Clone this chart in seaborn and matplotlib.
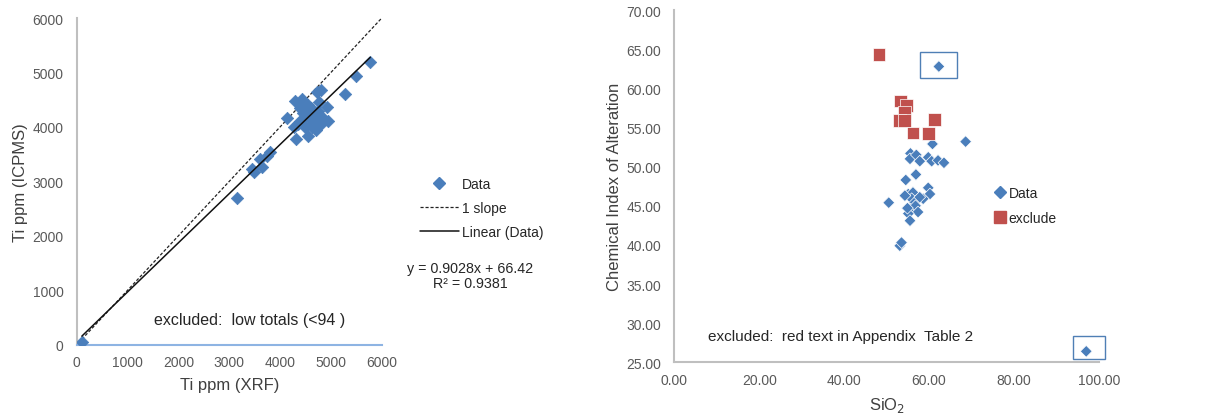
import numpy as np
import pandas as pd
import matplotlib
matplotlib.use("Agg")
import matplotlib.pyplot as plt
import seaborn as sns
from matplotlib.lines import Line2D
from matplotlib.patches import Rectangle

sns.set_style("white")
plt.rcParams['font.family'] = ['Liberation Sans', 'DejaVu Sans']

# ---- Left panel data: Ti ppm XRF vs ICPMS ----
ti_xrf = [100, 3160, 3490, 3445, 3642, 3608, 3740, 3805, 4134, 4317, 4297, 4429,
          4264, 4540, 4626, 4724, 4803, 4756, 4921, 4933, 5281, 5498, 5774,
          4400, 4450, 4500, 4550, 4600, 4650, 4700, 4750, 4500, 4600, 4700,
          4800, 4400, 4550, 4650, 4800, 4450, 4350, 4700]
ti_icpms = [50, 2690, 3166, 3227, 3258, 3410, 3471, 3533, 4163, 3778, 4482, 4512,
            3993, 3839, 3993, 4635, 4684, 4452, 4360, 4114, 4604, 4940, 5186,
            4100, 4250, 4300, 4200, 4350, 4150, 4250, 4300, 4000, 4050, 4100,
            4200, 4350, 4400, 4300, 4050, 4150, 4050, 3950]
fit_slope = 0.9028
fit_intercept = 66.42
fit_r2 = 0.9381
one_slope_x = [100, 6000]

# ---- Right panel data: SiO2 vs CIA ----
sio2_data = [62.3, 68.6, 60.8, 55.6, 55.5, 57.0, 57.8, 59.8, 60.6, 62.1, 63.5,
             56.9, 54.5, 50.5, 59.8, 60.2, 58.6, 55.1, 56.2, 55.9, 56.6, 55.5,
             56.8, 57.4, 55.1, 55.5, 54.9, 57.8, 54.3, 53.1, 53.5, 97.0]
cia_data = [62.8, 53.2, 52.9, 51.7, 51.0, 51.5, 50.7, 51.2, 50.7, 50.8, 50.5,
            49.0, 48.3, 45.4, 47.3, 46.5, 45.9, 46.5, 46.7, 45.9, 45.4, 44.6,
            45.0, 44.2, 44.0, 43.1, 44.7, 46.1, 46.3, 39.9, 40.3, 26.4]
sio2_excl = [48.2, 53.3, 54.7, 54.3, 53.1, 54.3, 61.2, 56.2, 59.8]
cia_excl = [64.3, 58.4, 57.8, 56.9, 55.9, 55.9, 56.0, 54.3, 54.2]

blue = "#4A7EBB"
red = "#C0504D"
box_col = "#4F7FB5"
tick_col = "#595959"
label_col = "#404040"
text_col = "#262626"

fig = plt.figure(figsize=(12.05, 4.14), dpi=100)
ax1 = fig.add_axes([0.0637, 0.165, 0.2531, 0.789])
ax2 = fig.add_axes([0.5596, 0.1225, 0.3524, 0.8505])

# Left panel
df1 = pd.DataFrame({"xrf": ti_xrf, "icpms": ti_icpms})
sns.scatterplot(data=df1, x="xrf", y="icpms", ax=ax1, marker="D", s=40,
                color=blue, edgecolor=blue, linewidth=0.5, zorder=3, legend=False)
ax1.plot(one_slope_x, one_slope_x, linestyle=(0, (2.5, 1.5)), color="#222222", lw=0.9, zorder=2)
fx = np.array([min(ti_xrf), max(ti_xrf)])
ax1.plot(fx, fit_slope * fx + fit_intercept, color="#111111", lw=1.1, zorder=4)
ax1.set_xlim(0, 6000)
ax1.set_ylim(0, 6000)
ax1.set_xticks(range(0, 6001, 1000))
ax1.set_yticks(range(0, 6001, 1000))
ax1.set_xlabel("Ti ppm (XRF)", fontsize=12, color=label_col, labelpad=6)
ax1.set_ylabel("Ti ppm (ICPMS)", fontsize=12, color=label_col, labelpad=3)
ax1.text(1521, 459, "excluded:  low totals (<94 )", fontsize=11.5, color=text_col, va="center")

handles1 = [Line2D([], [], marker="D", color=blue, linestyle="none", markersize=5.8),
            Line2D([], [], color="#222222", linestyle=(0, (2.5, 1.5)), lw=0.9),
            Line2D([], [], color="#111111", lw=1.1)]
fig.legend(handles1, ["Data", "1 slope", "Linear (Data)"], loc="upper left",
           bbox_to_anchor=(0.3485, 0.570), frameon=False, fontsize=10,
           borderaxespad=0, borderpad=0,
           handlelength=2.8, handletextpad=0.2, labelspacing=0.72, labelcolor=text_col)
fig.text(0.390, 0.333, f"y = {fit_slope}x + {fit_intercept}\nR² = {fit_r2}",
         ha="center", va="center", fontsize=10.3, color=text_col, linespacing=1.1)

# Right panel
df2 = pd.DataFrame({"sio2": sio2_data + sio2_excl, "cia": cia_data + cia_excl,
                    "grp": ["Data"] * len(sio2_data) + ["exclude"] * len(sio2_excl)})
sns.scatterplot(data=df2, x="sio2", y="cia", hue="grp", style="grp",
                markers={"Data": "D", "exclude": "s"}, size="grp",
                sizes={"Data": 36, "exclude": 85},
                palette={"Data": blue, "exclude": red}, ax=ax2, linewidth=0.5,
                legend=False, zorder=3)
ax2.set_xlim(0, 100)
ax2.set_ylim(25, 70)
ax2.set_xticks(np.arange(0, 100.1, 20))
ax2.set_yticks(np.arange(25, 70.1, 5))
ax2.set_xticklabels([f"{v:.2f}" for v in np.arange(0, 100.1, 20)])
ax2.set_yticklabels([f"{v:.2f}" for v in np.arange(25, 70.1, 5)])
ax2.set_xlabel("SiO$_2$", fontsize=12, color=label_col, labelpad=6)
ax2.set_ylabel("Chemical Index of Alteration", fontsize=12, color=label_col, labelpad=3)
ax2.text(7.9, 28.36, "excluded:  red text in Appendix  Table 2", fontsize=11,
         color=text_col, va="center")
ax2.add_patch(Rectangle((57.9, 61.3), 8.7, 3.4, fill=False, edgecolor=box_col, lw=1.0, zorder=5))
ax2.add_patch(Rectangle((93.8, 25.4), 7.6, 3.0, fill=False, edgecolor=box_col, lw=1.0,
                        zorder=5, clip_on=False))

handles2 = [Line2D([], [], marker="D", color=blue, linestyle="none", markersize=5.8),
            Line2D([], [], marker="s", color=red, linestyle="none", markersize=8)]
fig.legend(handles2, ["Data", "exclude"], loc="upper left",
           bbox_to_anchor=(0.8253, 0.548), frameon=False, fontsize=10,
           borderaxespad=0, borderpad=0,
           handlelength=0.8, handletextpad=0.2, labelspacing=0.75, labelcolor=text_col)

for ax in (ax1, ax2):
    ax.tick_params(axis="y", length=0, labelsize=10, labelcolor=tick_col, pad=9.4)
    ax.tick_params(axis="x", length=0, labelsize=10, labelcolor=tick_col, pad=7.5)
    for s in ("top", "right"):
        ax.spines[s].set_visible(False)
    ax.spines["left"].set_color("#BFBFBF")
    ax.spines["bottom"].set_color("#BFBFBF")
    ax.spines["left"].set_linewidth(1.5)
    ax.spines["bottom"].set_linewidth(1.5)
ax1.spines["bottom"].set_color("#8EB4E3")

fig.savefig("out.png", dpi=100)
